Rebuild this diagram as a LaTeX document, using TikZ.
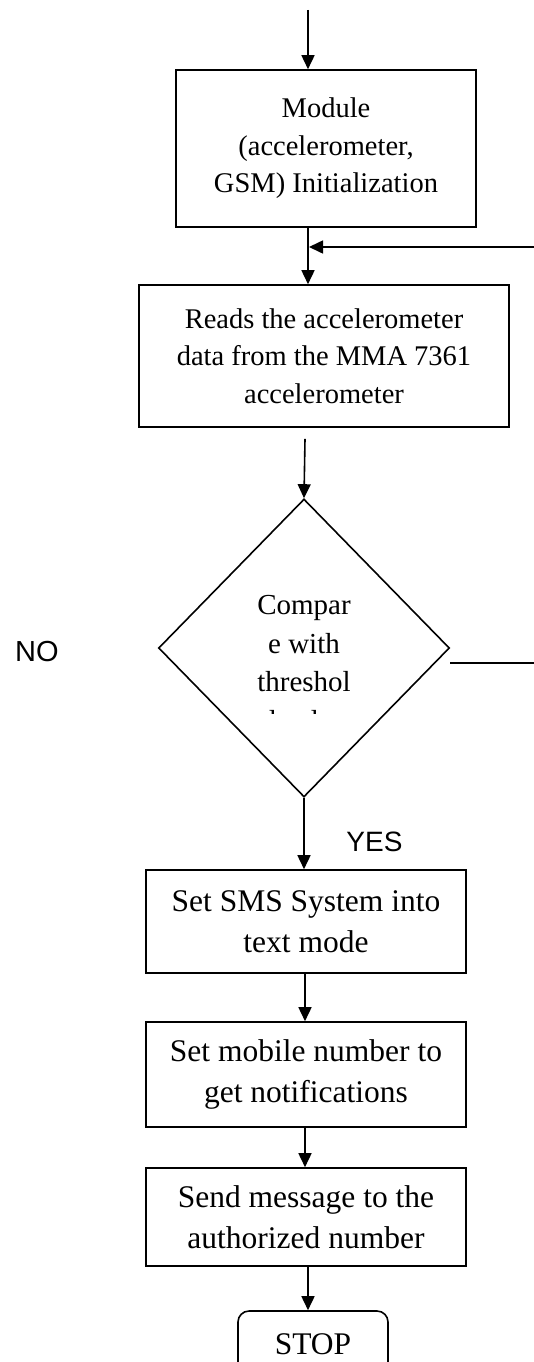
\documentclass[tikz,border=0pt]{standalone}
\usepackage{fontspec}
\setmainfont{Liberation Serif}
\newfontfamily\labelsans{Liberation Sans}
\usetikzlibrary{arrows.meta,shapes.geometric}
\tikzset{
  box/.style={draw, line width=1.6pt, inner sep=0pt, align=center},
  smalltext/.style={font=\fontsize{28.5}{37.5}\selectfont},
  bigtext/.style={font=\fontsize{31.5}{41.5}\selectfont},
  arr/.style={line width=1.6pt, -{Triangle[length=14pt,width=13pt]}},
  plain/.style={line width=1.6pt},
  lbl/.style={inner sep=0pt, font=\labelsans\fontsize{29}{34}\selectfont}
}
\begin{document}
\begin{tikzpicture}[x=1pt,y=-1pt]
\clip (0,0) rectangle (534,1362);
\fill[white] (0,0) rectangle (534,1362);
% arrow axes
\coordinate (axA) at (308,0);
\coordinate (axB) at (305,0);
\coordinate (start) at (308,10);
\coordinate (fbR) at (534,247);
\coordinate (noR) at (534,663);
% nodes
\node[box, smalltext, minimum width=300pt, minimum height=157pt] (b1) at (326,148.5)
  {Module\\(accelerometer,\\GSM) Initialization};
\node[box, smalltext, minimum width=370pt, minimum height=142pt] (b2) at (324,356)
  {Reads the accelerometer\\data from the MMA 7361\\accelerometer};
\node[draw, line width=1.6pt, shape=diamond, minimum width=291pt, minimum height=298pt, inner sep=0pt] (dia) at (304,648) {};
\begin{scope}
\clip (150,560) rectangle (460,713);
\node[align=center, inner sep=0pt, font=\fontsize{29}{38.5}\selectfont] (diatext) at (304,663)
  {Compar\\e with\\threshol\\d value};
\end{scope}
\node[box, bigtext, minimum width=320pt, minimum height=103pt] (b3) at (306,921.5)
  {Set SMS System into\\text mode};
\node[box, bigtext, minimum width=320pt, minimum height=105pt] (b4) at (306,1074.5)
  {Set mobile number to\\get notifications};
\node[box, bigtext, minimum width=320pt, minimum height=98pt] (b5) at (306,1217)
  {Send message to the\\authorized number};
\node[draw, line width=1.6pt, rounded corners=11pt, minimum width=150pt, minimum height=66pt, inner sep=0pt,
  font=\fontsize{31.5}{36}\selectfont] (stop) at (313,1344) {STOP};
\node[lbl] (no) at (37,652) {NO};
\node[lbl, font=\labelsans\fontsize{28}{34}\selectfont] (yes) at (374.5,842) {YES};
% connectors
\draw[arr] (start) -- (axA |- b1.north);
\draw[arr] (axA |- b1.south) -- (axA |- b2.north);
\draw[arr] (fbR) -- ([xshift=1pt]axA |- fbR);
\draw[arr] ([yshift=-11pt]axB |- b2.south) -- (dia.north);
\draw[plain] (noR -| dia.east) -- (noR);
\draw[arr] (dia.south) -- (dia.south |- b3.north);
\draw[arr] (axB |- b3.south) -- (axB |- b4.north);
\draw[arr] (axB |- b4.south) -- (axB |- b5.north);
\draw[arr] (axA |- b5.south) -- (axA |- stop.north);
\end{tikzpicture}
\end{document}
